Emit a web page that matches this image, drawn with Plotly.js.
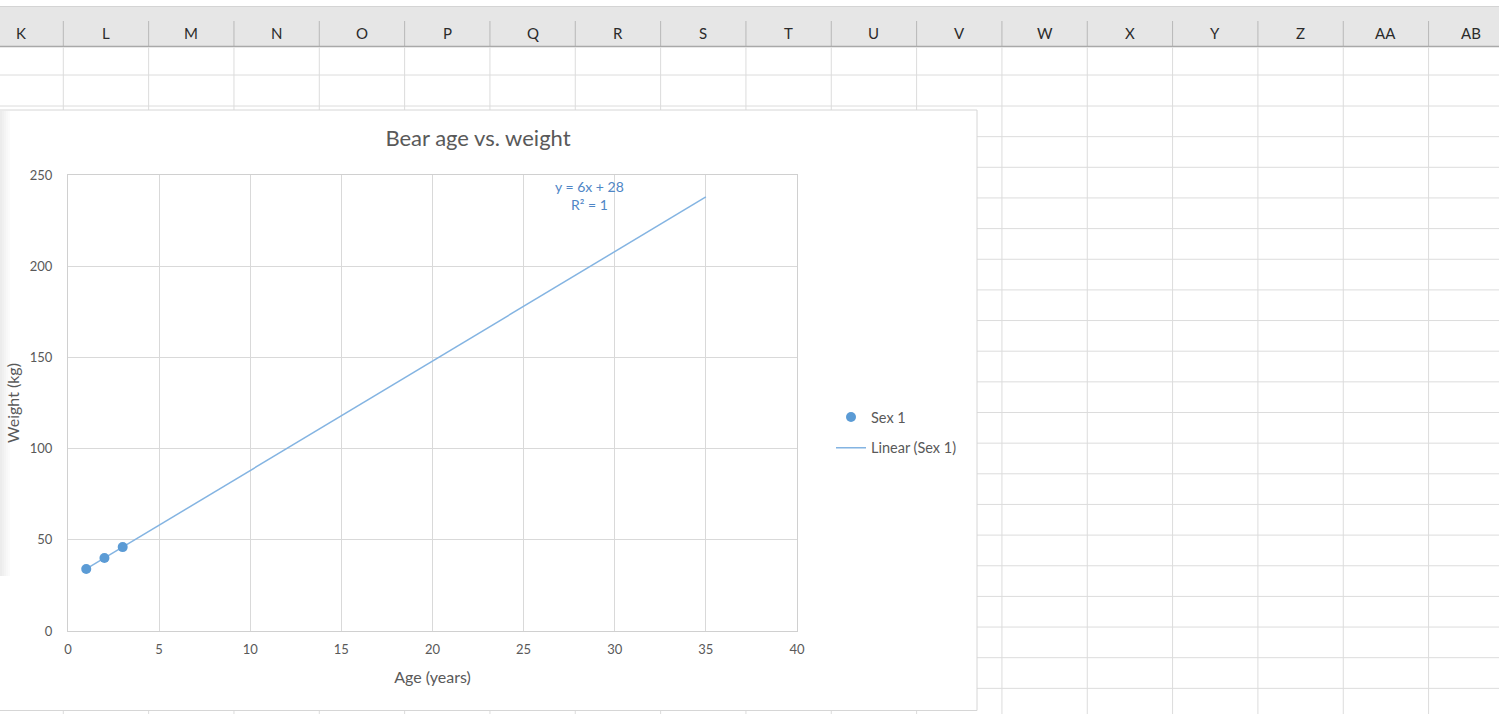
<!DOCTYPE html>
<html>
<head>
<meta charset="utf-8">
<script src="https://cdn.plot.ly/plotly-3.0.1.min.js"></script>
<style>
html,body{margin:0;padding:0;background:#fff;overflow:hidden;}
#chart{width:1499px;height:714px;}
</style>
</head>
<body>
<div id="chart"></div>
<script>
// ---- data ----
const ageYears = [1, 2, 3];
const weightKg = [34, 40, 46];
const trendAge = [1, 35];
const trendWeight = [34, 238];
const trendLabel = "y = 6x + 28<br>R² = 1";
const xTicks = [0, 5, 10, 15, 20, 25, 30, 35, 40];
const yTicks = [0, 50, 100, 150, 200, 250];
const columnLetters = ["K","L","M","N","O","P","Q","R","S","T","U","V","W","X","Y","Z","AA","AB"];
const seriesName = "Sex 1";
const trendName = "Linear (Sex 1)";

// ---- layout geometry (pixels) ----
const FULL_W = 1499, FULL_H = 714;
const M = {l: 68, r: FULL_W - 797, t: 175, b: FULL_H - 631};
const PW = FULL_W - M.l - M.r, PH = FULL_H - M.t - M.b;
const px = x => (x - M.l) / PW;
const py = y => 1 - (y - M.t) / PH;

const FONT = "Lato, 'Open Sans', sans-serif";
const shapes = [];
function line(x0, y0, x1, y1, color, w) {
  shapes.push({type: "line", xref: "paper", yref: "paper", layer: "below",
    x0: px(x0), y0: py(y0), x1: px(x1), y1: py(y1), line: {color: color, width: w || 1}});
}
function rect(x0, y0, x1, y1, fill, lineColor, w) {
  shapes.push({type: "rect", xref: "paper", yref: "paper", layer: "below",
    x0: px(x0), y0: py(y0), x1: px(x1), y1: py(y1), fillcolor: fill,
    line: {color: lineColor || "rgba(0,0,0,0)", width: lineColor ? (w || 1) : 0}});
}

// spreadsheet column edges & rows
const colEdges = [];
for (let k = 0; k <= 16; k++) colEdges.push(63.3 + 85.33 * k);
const rowEdges = [75, 106];
for (let k = 1; k <= 19; k++) rowEdges.push(106 + 30.65 * k);

// header
line(0, 6.5, FULL_W, 6.5, "#d4d4d4", 1);
rect(0, 7, FULL_W, 46, "#e6e6e6");
colEdges.forEach(x => line(x, 21, x, 46, "#b8b8b8", 1));
line(0, 46.5, FULL_W, 46.5, "#a9a9a9", 1.5);
// body grid
colEdges.forEach(x => line(x, 47.5, x, FULL_H, "#dcdcdc", 1));
rowEdges.forEach(y => line(0, y, FULL_W, y, "#dcdcdc", 1));
// chart box
rect(-5, 110, 977, 710.5, "#ffffff", "#d6d6d6", 1);
// soft shadow on left edge
const shadowCols = ["#ececec", "#f0f0f0", "#f4f4f4", "#f8f8f8", "#fbfbfb"];
shadowCols.forEach((c, i) => rect(i * 2, 111, i * 2 + 2, 576, c));

const annotations = [];
columnLetters.forEach((letter, i) => {
  const cx = 63.3 + 85.33 * (i - 0.5);
  annotations.push({xref: "paper", yref: "paper", x: px(cx), y: py(33),
    text: letter, showarrow: false, xanchor: "center", yanchor: "middle",
    font: {family: FONT, size: 15, color: "#2b2b2b"}});
});
annotations.push({xref: "x", yref: "y", x: 28.6, y: 238.5, text: trendLabel,
  showarrow: false, xanchor: "center", yanchor: "middle", align: "center",
  font: {family: FONT, size: 14, color: "#4f86c6"}});

const traces = [
  {type: "scatter", mode: "lines", x: trendAge, y: trendWeight, name: trendName,
   line: {color: "rgb(132,180,226)", width: 1.5}, legendgroup: "b", legendrank: 2,
   hoverinfo: "skip"},
  {type: "scatter", mode: "markers", x: ageYears, y: weightKg, name: seriesName,
   marker: {color: "#5b9bd5", size: 10}, legendgroup: "a", legendrank: 1}
];

const axisFont = {family: FONT, size: 13, color: "#595959"};
const layout = {
  width: FULL_W, height: FULL_H,
  margin: M,
  paper_bgcolor: "#ffffff",
  plot_bgcolor: "rgba(0,0,0,0)",
  title: {text: "Bear age vs. weight", xref: "container", yref: "container",
    x: 478 / FULL_W, y: 1 - 138 / FULL_H, xanchor: "center", yanchor: "middle",
    font: {family: FONT, size: 22, color: "#595959"}},
  xaxis: {range: [0, 40], tickvals: xTicks, ticktext: xTicks.map(String),
    showgrid: true, gridcolor: "#d9d9d9", gridwidth: 1, zeroline: false,
    showline: true, linecolor: "#d0d0d0", linewidth: 1, mirror: true,
    ticks: "", ticklabelstandoff: 6, tickfont: axisFont,
    title: {text: "Age (years)", standoff: 16, font: {family: FONT, size: 16, color: "#595959"}}},
  yaxis: {range: [0, 250], tickvals: yTicks, ticktext: yTicks.map(String),
    showgrid: true, gridcolor: "#d9d9d9", gridwidth: 1, zeroline: false,
    showline: true, linecolor: "#d0d0d0", linewidth: 1, mirror: true,
    ticks: "", ticklabelstandoff: 12, tickfont: axisFont,
    title: {text: "Weight (kg)", standoff: 6, font: {family: FONT, size: 16, color: "#595959"}}},
  showlegend: true,
  legend: {x: px(831), y: py(401), xanchor: "left", yanchor: "top",
    bgcolor: "rgba(0,0,0,0)", traceorder: "grouped", tracegroupgap: 9,
    font: {family: FONT, size: 14.5, color: "#595959"}},
  shapes: shapes,
  annotations: annotations
};

Plotly.newPlot("chart", traces, layout, {displayModeBar: false, staticPlot: true});
</script>
</body>
</html>
